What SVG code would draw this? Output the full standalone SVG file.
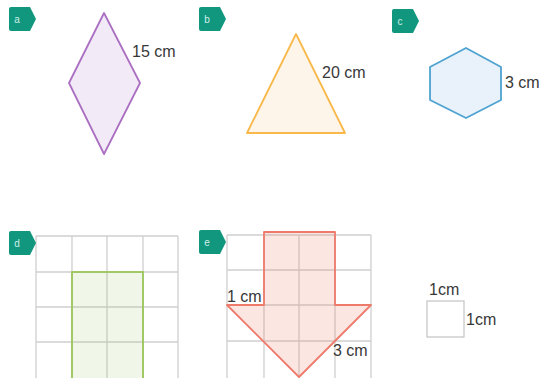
<svg xmlns="http://www.w3.org/2000/svg" width="545" height="378" viewBox="0 0 545 378">
<defs>
<style>
.tag{fill:#12977f}
.tagt{fill:#cfeee6;font-family:"Liberation Sans",Arial,sans-serif;font-size:10px;text-anchor:middle}
.lbl{fill:#383838;font-family:"Liberation Sans",Arial,sans-serif;font-size:16px}
.grid{stroke:#cfcfcf;stroke-width:1.3;fill:none}
</style>
<path id="tagshape" d="M2,0 H21 L27,12 L21,24 H2 Q0,24 0,22 V2 Q0,0 2,0 Z"/>
</defs>
<rect width="545" height="378" fill="#fff"/>

<g id="node-a">
<use href="#tagshape" class="tag" x="9" y="7"/>
<text class="tagt" x="17" y="23">a</text>
<polygon points="104,13 140,83 104,154 69,83" fill="#f2ebf7" stroke="#ab6fc2" stroke-width="1.8" stroke-linejoin="round"/>
<text class="lbl" x="132" y="57">15 cm</text>
</g>

<g id="node-b">
<use href="#tagshape" class="tag" x="199" y="7"/>
<text class="tagt" x="207" y="23">b</text>
<polygon points="296,34 345,133 247,133" fill="#fef5ea" stroke="#f8b84a" stroke-width="1.8" stroke-linejoin="round"/>
<text class="lbl" x="322" y="78">20 cm</text>
</g>

<g id="node-c">
<use href="#tagshape" class="tag" x="392" y="9"/>
<text class="tagt" x="400" y="25">c</text>
<polygon points="466,48 501,67 501,100 466,118 430,100 430,67" fill="#e9f1fa" stroke="#4ea3d0" stroke-width="1.8" stroke-linejoin="round"/>
<text class="lbl" x="505" y="88">3 cm</text>
</g>

<g id="node-d">
<g class="grid">
<path d="M36,236 V378 M72,236 V378 M107,236 V378 M143,236 V378 M178,236 V378"/>
<path d="M36,236 H178 M36,272 H178 M36,307 H178 M36,342 H178"/>
</g>
<rect x="72" y="272" width="71" height="108" fill="#9bc75a" fill-opacity="0.14" stroke="#9bc75a" stroke-width="1.8"/>
<use href="#tagshape" class="tag" x="9" y="231"/>
<text class="tagt" x="17" y="247">d</text>
</g>

<g id="node-e">
<g class="grid">
<path d="M227,235 V378 M264,235 V378 M299,235 V378 M335,235 V378 M371,235 V378"/>
<path d="M227,235 H371 M227,270 H371 M227,305 H371 M227,341 H371"/>
</g>
<polygon points="264,232 335,232 335,305 371,305 299,377 227,305 264,305" fill="#f08070" fill-opacity="0.2" stroke="#ee7a6c" stroke-width="1.8" stroke-linejoin="round"/>
<use href="#tagshape" class="tag" x="199" y="230"/>
<text class="tagt" x="207" y="246">e</text>
<text class="lbl" x="227" y="302">1 cm</text>
<text class="lbl" x="333" y="356">3 cm</text>
</g>

<g id="node-unit">
<rect x="427" y="301" width="37" height="36" fill="#fff" stroke="#c8c8c8" stroke-width="1.3"/>
<text class="lbl" x="429" y="295">1cm</text>
<text class="lbl" x="466" y="325">1cm</text>
</g>
</svg>
